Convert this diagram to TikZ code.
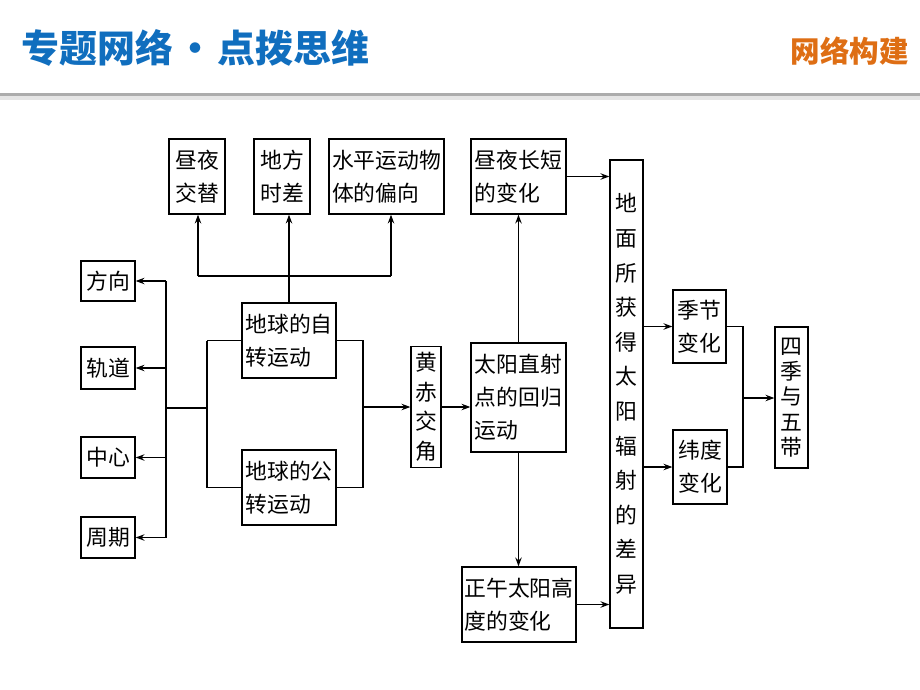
\documentclass[tikz,border=0pt]{standalone}
\usepackage{fontspec}
\usepackage{tikz}
\usetikzlibrary{arrows.meta,calc,positioning}
\newfontfamily\cjk{Noto Sans CJK SC}
\definecolor{titleblue}{RGB}{16,110,190}
\definecolor{titleorange}{RGB}{222,110,20}
\tikzset{
	box/.style={draw,line width=0.9pt,inner sep=0pt,align=left,
		font=\cjk\fontsize{15.5}{23.5}\selectfont},
	vbox/.style={box,align=center},
	link/.style={line width=0.9pt},
}

\begin{document}
\begin{tikzpicture}[x=0.025cm,y=-0.025cm,>={Stealth[length=2.2mm,width=1.6mm]}]
		\useasboundingbox (0,0) rectangle (920,690);

		\node[anchor=west,text=titleblue,font=\cjk\bfseries\fontsize{27}{30}\selectfont,inner sep=0pt] (title) at (21,48) {专题网络\hspace{0.08em}•\hspace{0.08em}点拨思维};
		\node[anchor=east,text=titleorange,font=\cjk\bfseries\fontsize{21}{24}\selectfont,inner sep=0pt] (tag) at (909,51) {网络构建};
		\draw[gray!20,line width=3pt] (0,98) -- (920,98);
		\draw[gray!65,line width=2.2pt] (0,94.5) -- (920,94.5);

		\begin{scope}[every node/.style={box}]
			\node[minimum width=1.4cm,minimum height=1.875cm] (zhouye) at (197,176.5) {昼夜\\交替};
			\node[minimum width=1.4cm,minimum height=1.875cm] (difang) at (282,176.5) {地方\\时差};
			\node[minimum width=2.875cm,minimum height=1.875cm] (shuiping) at (386.5,176.5) {水平运动物\\体的偏向};
			\node[minimum width=1.35cm,minimum height=1.0cm] (fangxiang) at (108,281) {方向};
			\node[minimum width=1.35cm,minimum height=1.05cm] (guidao) at (108,368) {轨道};
			\node[minimum width=1.35cm,minimum height=1.025cm] (zhongxin) at (108,457.5) {中心};
			\node[minimum width=1.35cm,minimum height=1.025cm] (zhouqi) at (108,537.5) {周期};
			\node[minimum width=2.35cm,minimum height=1.875cm] (zizhuan) at (289,340.5) {地球的自\\转运动};
			\node[minimum width=2.35cm,minimum height=1.875cm] (gongzhuan) at (289,487.5) {地球的公\\转运动};
			\node[minimum width=2.375cm,minimum height=2.725cm] (zhishe) at (518.5,397.5) {太阳直射\\点的回归\\运动};
			\node[minimum width=2.375cm,minimum height=1.875cm] (changduan) at (518.5,176.5) {昼夜长短\\的变化};
			\node[minimum width=2.85cm,minimum height=1.875cm] (zhengwu) at (519,604.5) {正午太阳高\\度的变化};
			\node[minimum width=1.325cm,minimum height=1.825cm] (jijie) at (699.5,326.5) {季节\\变化};
			\node[minimum width=1.35cm,minimum height=1.85cm] (weidu) at (700,467) {纬度\\变化};
		\end{scope}

		\begin{scope}[every node/.style={vbox}]
			\node[minimum width=0.75cm,minimum height=3.025cm,font=\cjk\fontsize{15.5}{21}\selectfont] (huangchi) at (426,407) {黄\\赤\\交\\角};
			\node[minimum width=0.825cm,minimum height=11.7cm,font=\cjk\fontsize{15.5}{24.6}\selectfont] (dimian) at (626.5,394) {地\\面\\所\\获\\得\\太\\阳\\辐\\射\\的\\差\\异};
			\node[minimum width=0.825cm,minimum height=3.525cm,font=\cjk\fontsize{15.5}{18}\selectfont] (siji) at (791.5,397.5) {四\\季\\与\\五\\带};
		\end{scope}

		\coordinate (rotL) at (198,276);
		\coordinate (rotR) at (391,276);
		\coordinate (lb) at (166,408);
		\coordinate (jl) at (207,408);
		\coordinate (jr) at (363,407);
		\coordinate (jj) at (743,398);

		\begin{scope}[link]
			\draw[->] (zizhuan.north) -- (zizhuan.north |- difang.south);
			\draw (rotL) -- (rotR);
			\draw[->] (rotL) -- (rotL |- zhouye.south);
			\draw[->] (rotR) -- (rotR |- shuiping.south);

			\draw (lb |- fangxiang) -- (lb |- zhouqi);
			\draw[->] (lb |- fangxiang) -- (fangxiang.east);
			\draw[->] (lb |- guidao) -- (guidao.east);
			\draw[->] (lb |- zhongxin) -- (zhongxin.east);
			\draw[->] (lb |- zhouqi) -- (zhouqi.east);
			\draw (lb) -- (jl);
			\draw (jl |- zizhuan) -- (jl |- gongzhuan);
			\draw (jl |- zizhuan) -- (zizhuan.west);
			\draw (jl |- gongzhuan) -- (gongzhuan.west);

			\draw (zizhuan.east) -- (zizhuan.east -| jr) -- (gongzhuan.east -| jr) -- (gongzhuan.east);
			\draw[->] (jr) -- (jr -| huangchi.west);
			\draw[->] (huangchi.east) -- (huangchi.east -| zhishe.west);

			\draw[->] (zhishe.north) -- (changduan.south);
			\draw[->] (zhishe.south) -- (zhishe.south |- zhengwu.north);
			\draw[->] (changduan.east) -- (changduan.east -| dimian.west);
			\draw[->] (zhengwu.east) -- (zhengwu.east -| dimian.west);

			\draw[->] (dimian.east |- jijie) -- (jijie.west);
			\draw[->] (dimian.east |- weidu) -- (weidu.west);
			\draw (jijie.east) -- (jijie.east -| jj) -- (weidu.east -| jj) -- (weidu.east);
			\draw[->] (jj) -- (jj -| siji.west);
		\end{scope}
	\end{tikzpicture}
\end{document}
